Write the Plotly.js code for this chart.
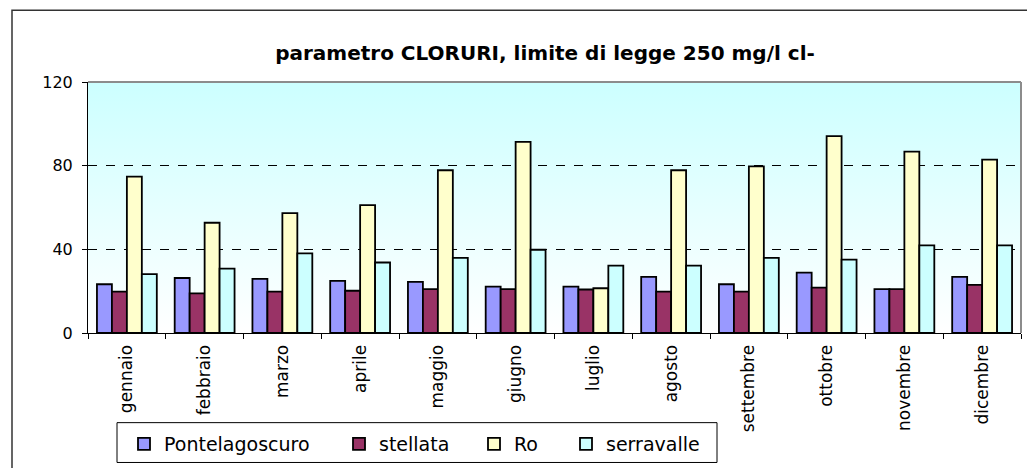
<!DOCTYPE html>
<html>
<head>
<meta charset="utf-8">
<script src="https://cdn.plot.ly/plotly-3.0.1.min.js"></script>
<style>html,body{margin:0;padding:0;background:#fff;}#chart{width:1027px;height:468px;}</style>
</head>
<body>
<div id="chart"></div>
<script>
const months = ['gennaio','febbraio','marzo','aprile','maggio','giugno','luglio','agosto','settembre','ottobre','novembre','dicembre'];
const pontelagoscuro = [23.3, 26.3, 25.9, 24.9, 24.4, 22.2, 22.2, 26.8, 23.3, 28.9, 21.0, 26.8];
const stellata = [19.8, 18.9, 19.8, 20.2, 21.0, 21.0, 20.8, 19.8, 19.8, 21.7, 21.0, 23.0];
const ro = [74.8, 52.7, 57.3, 61.1, 77.8, 91.4, 21.4, 77.8, 79.7, 94.1, 86.7, 82.9];
const serravalle = [28.1, 30.8, 38.1, 33.7, 35.9, 39.8, 32.2, 32.2, 35.9, 35.1, 41.9, 41.9];
const seriesNames = ['Pontelagoscuro', 'stellata', 'Ro', 'serravalle'];
const yTicks = [0, 40, 80, 120];

const FONT = 'DejaVu Sans, Arial, sans-serif';
const colors = ['#9999FF', '#993366', '#FFFFCC', '#CCFFFF'];
const seriesValues = [pontelagoscuro, stellata, ro, serravalle];
const legendIds = ['legend', 'legend2', 'legend3', 'legend4'];

const traces = seriesValues.map((vals, i) => ({
  type: 'bar', x: months, y: vals, name: seriesNames[i],
  marker: {color: colors[i], line: {color: '#000', width: 1.8}},
  legend: legendIds[i], hoverinfo: 'skip'
}));

// plot area geometry (px)
const L = 88, R = 1021, T = 82, B = 334, W = 1027, H = 468;
const pw = R - L, ph = B - T;
const px = x => (x - L) / pw;
const py = y => (B - y) / ph;

const svg = "<svg xmlns='http://www.w3.org/2000/svg' width='10' height='100' preserveAspectRatio='none'><defs><linearGradient id='g' x1='0' y1='0' x2='0' y2='1'><stop offset='0' stop-color='#CCFFFF'/><stop offset='1' stop-color='#FFFFFF'/></linearGradient></defs><rect width='10' height='100' fill='url(#g)'/></svg>";

const legendY = py(444);
const legendXs = [124, 339, 474, 566];
const legendCfg = {};
legendIds.forEach((id, i) => {
  legendCfg[id] = {
    x: px(legendXs[i]), y: legendY, xanchor: 'left', yanchor: 'middle',
    orientation: 'h', bgcolor: 'rgba(0,0,0,0)', borderwidth: 0,
    font: {family: FONT, size: 19, color: '#000'}, itemwidth: 30
  };
});

const layout = Object.assign({
  width: W, height: H,
  margin: {l: L, r: W - R, t: T, b: H - B, pad: 0},
  paper_bgcolor: '#fff', plot_bgcolor: 'rgba(0,0,0,0)',
  title: {text: '<b>parametro CLORURI, limite di legge 250 mg/l cl-</b>',
    font: {family: FONT, size: 20, color: '#000'},
    x: 545 / W, xanchor: 'center', xref: 'container', y: 1 - 53 / H, yanchor: 'middle', yref: 'container'},
  barmode: 'group', bargap: 0.23, bargroupgap: 0,
  showlegend: true,
  xaxis: {
    type: 'category', tickangle: -90, ticks: 'outside', tickson: 'boundaries', ticklen: 5,
    tickcolor: '#000', tickwidth: 1, showline: true, linecolor: '#000', linewidth: 1,
    tickfont: {family: FONT, size: 17, color: '#000'}, ticklabelstandoff: 4,
    showgrid: false, zeroline: false, fixedrange: true
  },
  yaxis: {
    range: [0, 120], tickvals: yTicks, ticktext: yTicks.map(String), ticks: 'outside', ticklen: 5,
    tickcolor: '#000', tickwidth: 1, showline: true, linecolor: '#000', linewidth: 1,
    tickfont: {family: FONT, size: 16, color: '#000'}, ticklabelstandoff: 6,
    showgrid: true, gridcolor: '#000', gridwidth: 1, griddash: 'dash', zeroline: false, fixedrange: true
  },
  images: [{source: 'data:image/svg+xml;base64,' + btoa(svg), xref: 'paper', yref: 'paper',
    x: 0, y: 1, sizex: 1, sizey: 1, xanchor: 'left', yanchor: 'top', sizing: 'stretch', layer: 'below'}],
  shapes: [
    {type: 'rect', xref: 'paper', yref: 'paper', x0: px(12), x1: px(1040), y0: py(480), y1: py(10),
      line: {color: '#333', width: 1.5}, fillcolor: 'rgba(0,0,0,0)', layer: 'above'},
    {type: 'line', xref: 'paper', yref: 'paper', x0: 0, x1: 1, y0: 1, y1: 1, line: {color: '#8c8c8c', width: 2}},
    {type: 'line', xref: 'paper', yref: 'paper', x0: 1, x1: 1, y0: 0, y1: 1, line: {color: '#8c8c8c', width: 2}},
    {type: 'rect', xref: 'paper', yref: 'paper', x0: px(117), x1: px(717), y0: py(464), y1: py(424),
      line: {color: '#000', width: 1}, fillcolor: '#fff', layer: 'below'}
  ]
}, legendCfg);

Plotly.newPlot('chart', traces, layout, {staticPlot: true, displayModeBar: false});
</script>
</body>
</html>
